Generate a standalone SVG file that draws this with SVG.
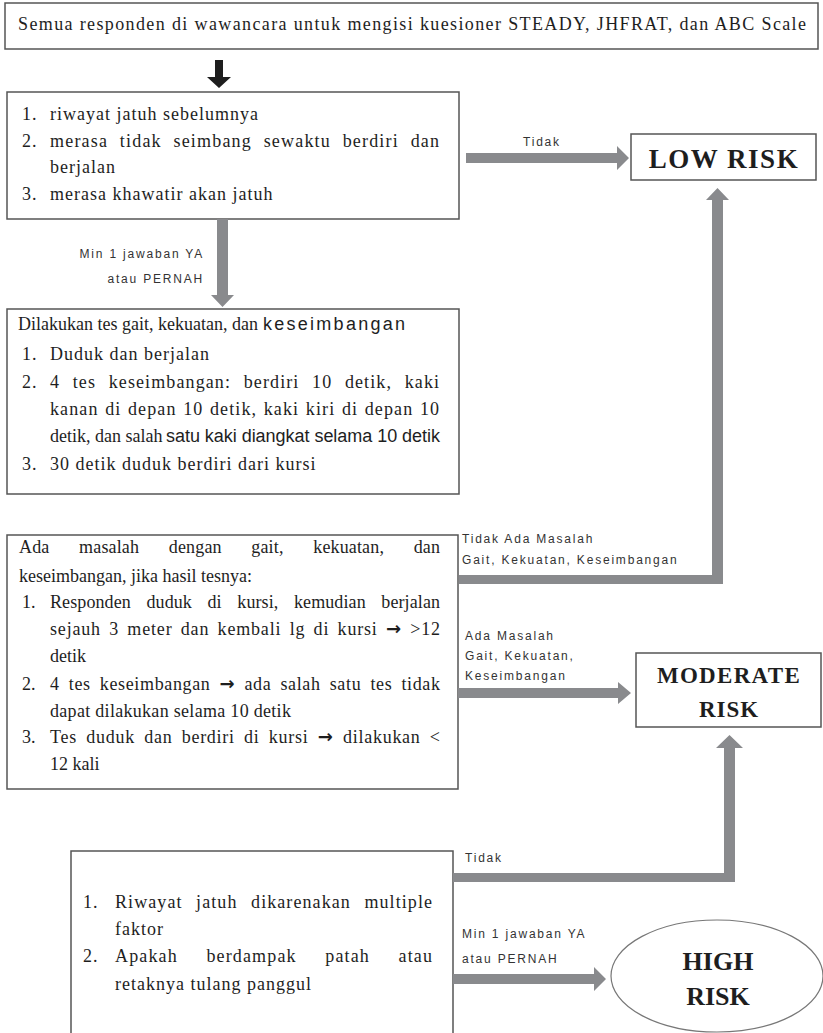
<svg xmlns="http://www.w3.org/2000/svg" width="823" height="1033" viewBox="0 0 823 1033">
<style>
.box{fill:#fff;stroke:#555;stroke-width:1.5}
.t{font-family:"Liberation Serif",serif;font-size:18px;fill:#1e1e1e}
.ls{letter-spacing:1px}
.s{font-family:"Liberation Sans",sans-serif;font-size:18px;fill:#1e1e1e}
.ar{font-family:"DejaVu Sans",sans-serif;font-weight:bold;font-size:18px}
.lbl{font-family:"Liberation Sans",sans-serif;font-size:12px;letter-spacing:1.8px;fill:#333}
.risk{font-family:"Liberation Serif",serif;font-weight:bold;fill:#1e1e1e;text-anchor:middle}
.arr{fill:#898a8d}
</style>
<rect width="823" height="1033" fill="#fff"/>

<g id="node-start">
<rect class="box" x="5" y="3" width="813" height="46"/>
<text class="t" x="18" y="30" textLength="788" lengthAdjust="spacing">Semua responden di wawancara untuk mengisi kuesioner STEADY, JHFRAT, dan ABC Scale</text>
</g>

<g id="node-screening">
<rect class="box" x="7" y="92" width="452" height="127"/>
<g class="t ls">
<text x="22" y="120">1.</text><text x="50" y="120">riwayat jatuh sebelumnya</text>
<text x="22" y="147">2.</text><text x="50" y="147" word-spacing="6" textLength="390" lengthAdjust="spacing">merasa tidak seimbang sewaktu berdiri dan</text>
<text x="50" y="173">berjalan</text>
<text x="22" y="200">3.</text><text x="50" y="200">merasa khawatir akan jatuh</text>
</g>
</g>

<g id="node-low">
<rect class="box" x="631" y="134" width="185" height="46"/>
<text class="risk" x="724" y="168" font-size="27" letter-spacing="1.5">LOW RISK</text>
</g>

<g id="node-tests">
<rect class="box" x="7" y="309" width="452" height="185"/>
<text class="t" x="18" y="330" font-size="17.5">Dilakukan tes gait, kekuatan, dan</text>
<text class="s" x="263" y="330" font-size="18" textLength="142" lengthAdjust="spacing">keseimbangan</text>
<g class="t ls">
<text x="22" y="360">1.</text><text x="50" y="360">Duduk dan berjalan</text>
<text x="22" y="388">2.</text><text x="50" y="388" word-spacing="7" textLength="390" lengthAdjust="spacing">4 tes keseimbangan: berdiri 10 detik, kaki</text>
<text x="50" y="415" word-spacing="1" textLength="390" lengthAdjust="spacing">kanan di depan 10 detik, kaki kiri di depan 10</text>
<text x="22" y="470">3.</text><text x="50" y="470">30 detik duduk berdiri dari kursi</text>
</g>
<text class="t" x="50" y="442" font-size="17.5">detik, dan salah</text>
<text class="s" x="166" y="442" font-size="17" textLength="274" lengthAdjust="spacing">satu kaki diangkat selama 10 detik</text>
</g>

<g id="node-problem">
<rect class="box" x="7" y="535" width="451" height="254"/>
<g class="t">
<text x="19" y="553" word-spacing="25" textLength="421" lengthAdjust="spacing">Ada masalah dengan gait, kekuatan, dan</text>
<text x="19" y="582">keseimbangan, jika hasil tesnya:</text>
<text x="22" y="608">1.</text><text x="50" y="608" word-spacing="11" textLength="390" lengthAdjust="spacing">Responden duduk di kursi, kemudian berjalan</text>
<text x="50" y="635" word-spacing="3" textLength="390" lengthAdjust="spacing">sejauh 3 meter dan kembali lg di kursi <tspan class="ar">→</tspan> &gt;12</text>
<text x="50" y="662">detik</text>
<text x="22" y="690">2.</text><text x="50" y="690" word-spacing="4" textLength="390" lengthAdjust="spacing">4 tes keseimbangan <tspan class="ar">→</tspan> ada salah satu tes tidak</text>
<text x="50" y="717" letter-spacing="0.3">dapat dilakukan selama 10 detik</text>
<text x="22" y="743">3.</text><text x="50" y="743" word-spacing="4" textLength="390" lengthAdjust="spacing">Tes duduk dan berdiri di kursi <tspan class="ar">→</tspan> dilakukan &lt;</text>
<text x="50" y="770">12 kali</text>
</g>
</g>

<g id="node-moderate">
<rect class="box" x="636" y="653" width="185" height="74"/>
<text class="risk" x="729" y="683" font-size="23" letter-spacing="1.3">MODERATE</text>
<text class="risk" x="729" y="717" font-size="23" letter-spacing="1">RISK</text>
</g>

<g id="node-history">
<rect class="box" x="71" y="851" width="382" height="220"/>
<g class="t ls">
<text x="83" y="908">1.</text><text x="115" y="908" word-spacing="8" textLength="318" lengthAdjust="spacing">Riwayat jatuh dikarenakan multiple</text>
<text x="115" y="935">faktor</text>
<text x="83" y="962">2.</text><text x="115" y="962" word-spacing="23" textLength="318" lengthAdjust="spacing">Apakah berdampak patah atau</text>
<text x="115" y="990">retaknya tulang panggul</text>
</g>
</g>

<g id="node-high">
<ellipse cx="717" cy="976" rx="106" ry="56" fill="#fff" stroke="#777" stroke-width="1.2"/>
<text class="risk" x="718" y="970" font-size="26">HIGH</text>
<text class="risk" x="718" y="1005" font-size="26">RISK</text>
</g>

<g id="connectors">
<path d="M215,60 H223 V77 H231 L219,88 L207,77 H215 Z" fill="#1e1e1e"/>
<path class="arr" d="M466,153 H617 V146 L629,158 L617,170 V163 H466 Z"/>
<path class="arr" d="M217,219 V295 H211 L222.5,307 L234,295 H228 V219 Z"/>
<path class="arr" d="M459,575 H712 V200 H706 L717.5,188 L729,200 H723 V584 H459 Z"/>
<path class="arr" d="M458,688 H618 V682 L631,693 L618,704 V698 H458 Z"/>
<path class="arr" d="M453,873 H724 V748 H716 L729.5,735 L743,748 H735 V882 H453 Z"/>
<path class="arr" d="M453,974 H594 V967 L606,979 L594,991 V984 H453 Z"/>
<g class="lbl">
<text x="523" y="146">Tidak</text>
<text x="204" y="258" text-anchor="end">Min 1 jawaban YA</text>
<text x="204" y="283" text-anchor="end">atau PERNAH</text>
<text x="462" y="543">Tidak Ada Masalah</text>
<text x="462" y="564">Gait, Kekuatan, Keseimbangan</text>
<text x="465" y="640">Ada Masalah</text>
<text x="465" y="660">Gait, Kekuatan,</text>
<text x="465" y="680">Keseimbangan</text>
<text x="465" y="862">Tidak</text>
<text x="462" y="938">Min 1 jawaban YA</text>
<text x="462" y="963">atau PERNAH</text>
</g>
</g>
</svg>
